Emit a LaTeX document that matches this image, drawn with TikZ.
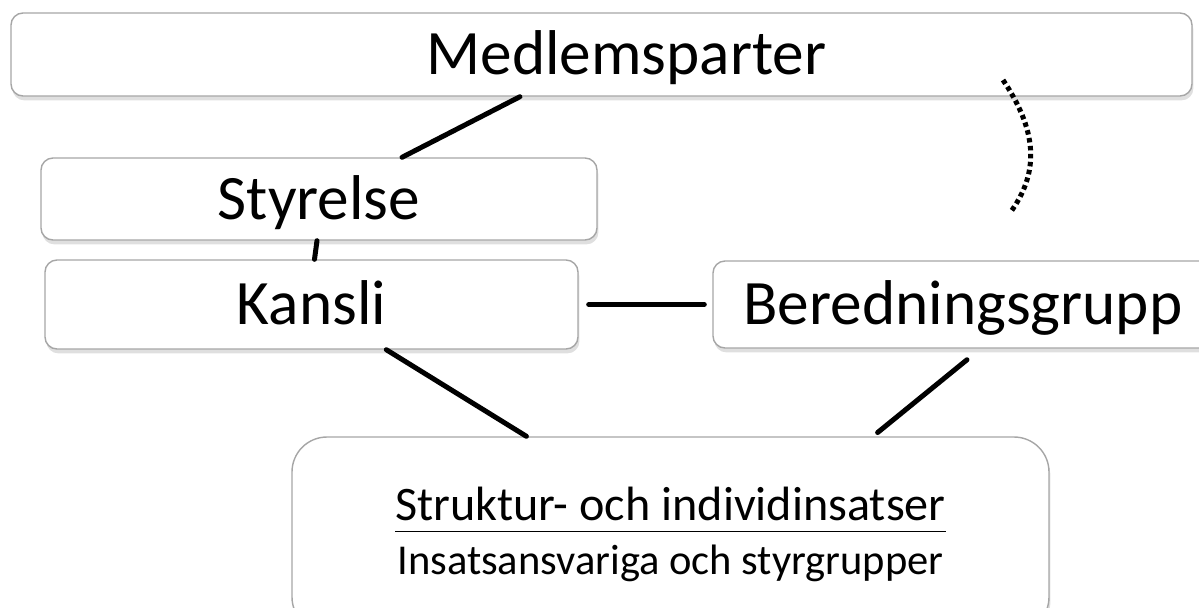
\documentclass[tikz,border=0pt]{standalone}
\usepackage{fontspec}
\setmainfont{Carlito}
\usetikzlibrary{calc,shadows}

\begin{document}
\begin{tikzpicture}[font=\fontsize{36}{40}\selectfont,
box/.style={draw=gray!70, line width=0.8pt, fill=white, rounded corners=0.24cm,
    inner sep=0pt, drop shadow={shadow xshift=0.8pt, shadow yshift=-2.5pt, opacity=0.25}},
tag/.style={box, text height=0.9cm, text depth=0.1cm},
link/.style={line width=0.1cm, line cap=round},
hint/.style={line width=0.1cm, dash pattern=on 0.09cm off 0.07cm}]
\useasboundingbox (0,0) rectangle (23.98,-12.14);
\node[tag, minimum width=23.62cm, minimum height=1.66cm] (medlem) at (12.03,-1.09) {\hspace*{1cm}Medlemsparter};
\node[tag, minimum width=11.12cm, minimum height=1.64cm] (styrelse) at (6.38,-3.98) {Styrelse};
\node[tag, minimum width=10.66cm, minimum height=1.78cm] (kansli) at (6.23,-6.09) {Kansli};
\node[tag, minimum width=10cm, minimum height=1.74cm] (bered) at (19.26,-6.09) {Beredningsgrupp};
\node[box, rounded corners=0.7cm, minimum width=15.14cm, minimum height=3.9cm,
    align=center, font=\fontsize{24.2}{24}\selectfont] (insats) at (13.41,-10.69)
    {{\fontsize{27.4}{24}\selectfont\underline{Struktur- och individinsatser\vphantom{p}}}\\[0.22cm]
     Insatsansvariga och styrgrupper};
% lines between the boxes
\draw[link] ($(medlem.south west)!0.431!(medlem.south east)$) -- ($(styrelse.north west)!0.649!(styrelse.north east)$);
\draw[link] ($(styrelse.south)+(-0.04,0)$) -- ($(kansli.north)+(0.06,0)$);
\draw[link, shorten <=0.2cm, shorten >=0.16cm] (kansli.east) -- (bered.west);
\draw[link] ($(kansli.south west)!0.64!(kansli.south east)$) -- ($(insats.north west)!0.31!(insats.north east)$);
\draw[link, shorten <=0.35cm, shorten >=0.12cm] ($(bered.south west)!0.535!(bered.south east)$) -- ($(insats.north west)!0.767!(insats.north east)$);
% dotted arc on the right
\draw[hint] (20.06,-1.6) .. controls (20.8,-2.7) and (20.75,-3.5) .. (20.2,-4.26);
\end{tikzpicture}
\end{document}
